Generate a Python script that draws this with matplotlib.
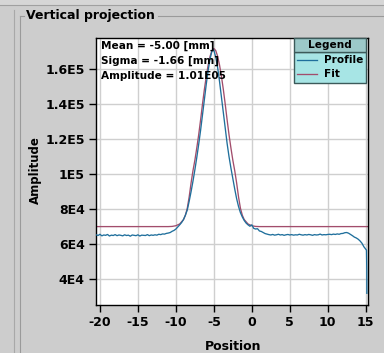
import numpy as np
import matplotlib.pyplot as plt
from matplotlib.patches import Rectangle
from matplotlib.lines import Line2D

W, H = 384, 353

# ---- data ----
profile_x = [-20.5, -20.25, -20.0, -19.75, -19.5, -19.25, -19.0, -18.75, -18.5, -18.25,
             -18.0, -17.75, -17.5, -17.25, -17.0, -16.75, -16.5, -16.25, -16.0, -15.75,
             -15.5, -15.25, -15.0, -14.75, -14.5, -14.25, -14.0, -13.75, -13.5, -13.25,
             -13.0, -12.75, -12.5, -12.25, -12.0, -11.75, -11.5, -11.25, -11.0,
             -10.75, -10.5, -10.25, -10.0, -9.75, -9.5, -9.25, -9.0, -8.75, -8.5,
             -8.25, -8.0, -7.75, -7.5, -7.25, -7.0, -6.75, -6.5, -6.25, -6.0,
             -5.75, -5.5, -5.25, -5.1, -5.0, -4.75, -4.5, -4.25, -4.0, -3.75, -3.5,
             -3.25, -3.0, -2.75, -2.5, -2.25, -2.0, -1.75, -1.5, -1.25, -1.0,
             -0.75, -0.5, -0.25, 0.0, 0.25, 0.5, 0.75, 1.0, 1.25, 1.5, 1.75, 2.0,
             2.25, 2.5, 2.75, 3.0, 3.25, 3.5, 3.75, 4.0, 4.25, 4.5,
             4.75, 5.0, 5.25, 5.5, 5.75, 6.0, 6.25, 6.5, 6.75, 7.0,
             7.25, 7.5, 7.75, 8.0, 8.25, 8.5, 8.75, 9.0, 9.25, 9.5,
             9.75, 10.0, 10.25, 10.5, 10.75, 11.0, 11.25, 11.5, 11.75, 12.0,
             12.25, 12.5, 12.75, 13.0, 13.25, 13.5, 13.75, 14.0, 14.25, 14.5,
             14.75, 15.0, 15.1, 15.14, 15.15]
profile_y = [65300, 64900, 65600, 64700, 65200, 65000, 65500, 64600, 65100, 64900,
             65400, 64800, 65200, 65000, 64700, 65300, 64900, 65100, 64500, 65200,
             65000, 64800, 65300, 64600, 65100, 65000, 64900, 65400, 64800, 65200,
             65000, 65300, 65100, 65600, 65400, 65800, 65700, 66100, 66300,
             66600, 67300, 67800, 68600, 69800, 71000, 72300, 74000, 76500, 79500,
             84500, 90000, 96000, 102500, 109500, 117000, 125000, 134000, 143000, 151500,
             159500, 166000, 170500, 171600, 171000, 167000, 161000, 153000, 144000, 134500, 125500,
             117500, 110000, 103500, 97500, 91500, 86000, 81500, 78000, 75500, 73500,
             72000, 71000, 70200, 71000, 69000, 68600, 68800, 67500, 67200, 66600, 66000, 65700,
             65400, 65200, 65500, 65100, 65300, 65600, 65200, 65400, 65000, 65300,
             65500, 65200, 65400, 65100, 65300, 65200, 65600, 65300, 65100, 65400,
             65200, 65500, 65300, 65000, 65400, 65200, 65300, 65700, 65200, 65400,
             65300, 65500, 65600, 65400, 65700, 65500, 65800, 65600, 66000, 66100,
             66500, 66600, 66200, 65500, 64800, 64000, 63500, 62800, 61800, 60500,
             58500, 57000, 56500, 45000, 31800]

fit_x = [-20.52, -12.0, -11.0, -10.5, -10.0, -9.5, -9.0, -8.75, -8.5, -8.25, -8.0,
         -7.75, -7.5, -7.25, -7.0, -6.75, -6.5, -6.25, -6.0, -5.75, -5.5, -5.25,
         -5.0, -4.75, -4.5, -4.25, -4.0, -3.75, -3.5, -3.25, -3.0, -2.75, -2.5,
         -2.25, -2.0, -1.75, -1.5, -1.25, -1.0, -0.5, 0.0, 0.5, 1.0, 2.0, 15.34]
fit_y = [70000, 70000, 70000, 70100, 70500, 71500, 74000, 76500, 80500, 87000, 95000,
         102000, 108000, 115000, 122500, 131000, 140000, 148500, 156000, 162500, 167500, 170800,
         172000, 170800, 167500, 162500, 156000, 148500, 140000, 131000, 122500, 115000, 108000,
         102000, 95000, 87000, 80500, 76500, 74000, 71500, 70500, 70100, 70000, 70000, 70000]

x_ticks = [-20, -15, -10, -5, 0, 5, 10, 15]
y_ticks = [40000, 60000, 80000, 100000, 120000, 140000, 160000]
y_tick_labels = ['4E4', '6E4', '8E4', '1E5', '1.2E5', '1.4E5', '1.6E5']
info_lines = ['Mean = -5.00 [mm]', 'Sigma = -1.66 [mm]', 'Amplitude = 1.01E05']

profile_color = '#1f6f9c'
fit_color = '#a24d6c'
bg = '#cdcdcd'

plt.rcParams['font.family'] = ['DejaVu Sans']
plt.rcParams['font.weight'] = 'bold'

fig = plt.figure(figsize=(W / 100, H / 100), dpi=100, facecolor=bg)


def fx(px):
    return px / W


def fy(py):
    return 1 - py / H


ax = fig.add_axes([fx(96), fy(305), fx(368.3) - fx(96), fy(38) - fy(305)])
ax.set_facecolor('white')
ax.plot(profile_x, profile_y, color=profile_color, lw=0.95, zorder=3)
ax.plot(fit_x, fit_y, color=fit_color, lw=0.95, zorder=2)

ax.set_xlim(-20.52, 15.34)
ax.set_ylim(25100, 178000)
ax.set_xticks(x_ticks)
ax.set_xticklabels([str(t) for t in x_ticks])
ax.set_yticks(y_ticks)
ax.set_yticklabels(y_tick_labels)
ax.grid(True, color='#cfcfcf', lw=1.0)
ax.set_axisbelow(True)
ax.tick_params(axis='both', labelsize=9, length=5, width=1, color='black', pad=3)
for lab in ax.get_xticklabels() + ax.get_yticklabels():
    lab.set_fontweight('bold')
for s in ax.spines.values():
    s.set_color('black')
    s.set_linewidth(1.0)

# axis titles
fig.text(fx(233), fy(346), 'Position', fontsize=9, fontweight='bold', ha='center', va='center')
fig.text(fx(35), fy(170), 'Amplitude', fontsize=8.5, fontweight='bold', ha='center', va='center',
         rotation=90)

# fit parameters
for i, s in enumerate(info_lines):
    fig.text(fx(101), fy(49 + 15 * i), s, fontsize=7.6, fontweight='bold', ha='left',
             va='baseline')

# legend box
lx0, lx1, ly0, ly1, lyh = 294.3, 365.7, 38, 82.7, 51.7
fig.add_artist(Rectangle((fx(lx0), fy(ly1)), fx(lx1) - fx(lx0), fy(lyh) - fy(ly1),
                         transform=fig.transFigure, facecolor='#a7e5e5', edgecolor='#3c5a5a', lw=1))
fig.add_artist(Rectangle((fx(lx0), fy(lyh)), fx(lx1) - fx(lx0), fy(ly0) - fy(lyh),
                         transform=fig.transFigure, facecolor='#9cc9c9', edgecolor='#3c5a5a', lw=1))
fig.text(fx(330), fy(45), 'Legend', fontsize=7.6, fontweight='bold', ha='center', va='center')
for yy, name, col in [(60, 'Profile', profile_color), (74, 'Fit', fit_color)]:
    fig.add_artist(Line2D([fx(297), fx(317)], [fy(yy), fy(yy)], transform=fig.transFigure,
                          color=col, lw=0.95))
    fig.text(fx(324), fy(yy), name, fontsize=7.6, fontweight='bold', ha='left', va='center')

# panel decoration (titled border)
fig.add_artist(Rectangle((0, fy(4.5)), 1, fy(0) - fy(4.5), transform=fig.transFigure,
                         facecolor='#d6d6d6', edgecolor='none'))
fig.add_artist(Line2D([0, 1], [fy(4.5), fy(4.5)], transform=fig.transFigure, color='#a0a0a0', lw=0.8))
fig.add_artist(Line2D([fx(20), fx(24)], [fy(15.5), fy(15.5)], transform=fig.transFigure,
                      color='#9a9a9a', lw=0.8))
fig.add_artist(Line2D([fx(158), 1], [fy(15.5), fy(15.5)], transform=fig.transFigure,
                      color='#9a9a9a', lw=0.8))
fig.add_artist(Line2D([fx(20), fx(20)], [fy(15.5), 0], transform=fig.transFigure,
                      color='#9a9a9a', lw=0.8))
fig.add_artist(Line2D([fx(13.5), fx(13.5)], [fy(10), 0], transform=fig.transFigure,
                      color='#a8a8a8', lw=0.8))
fig.text(fx(26), fy(16), 'Vertical projection', fontsize=9, fontweight='bold', ha='left',
         va='center')

fig.savefig('out.png', dpi=100, facecolor=bg)
